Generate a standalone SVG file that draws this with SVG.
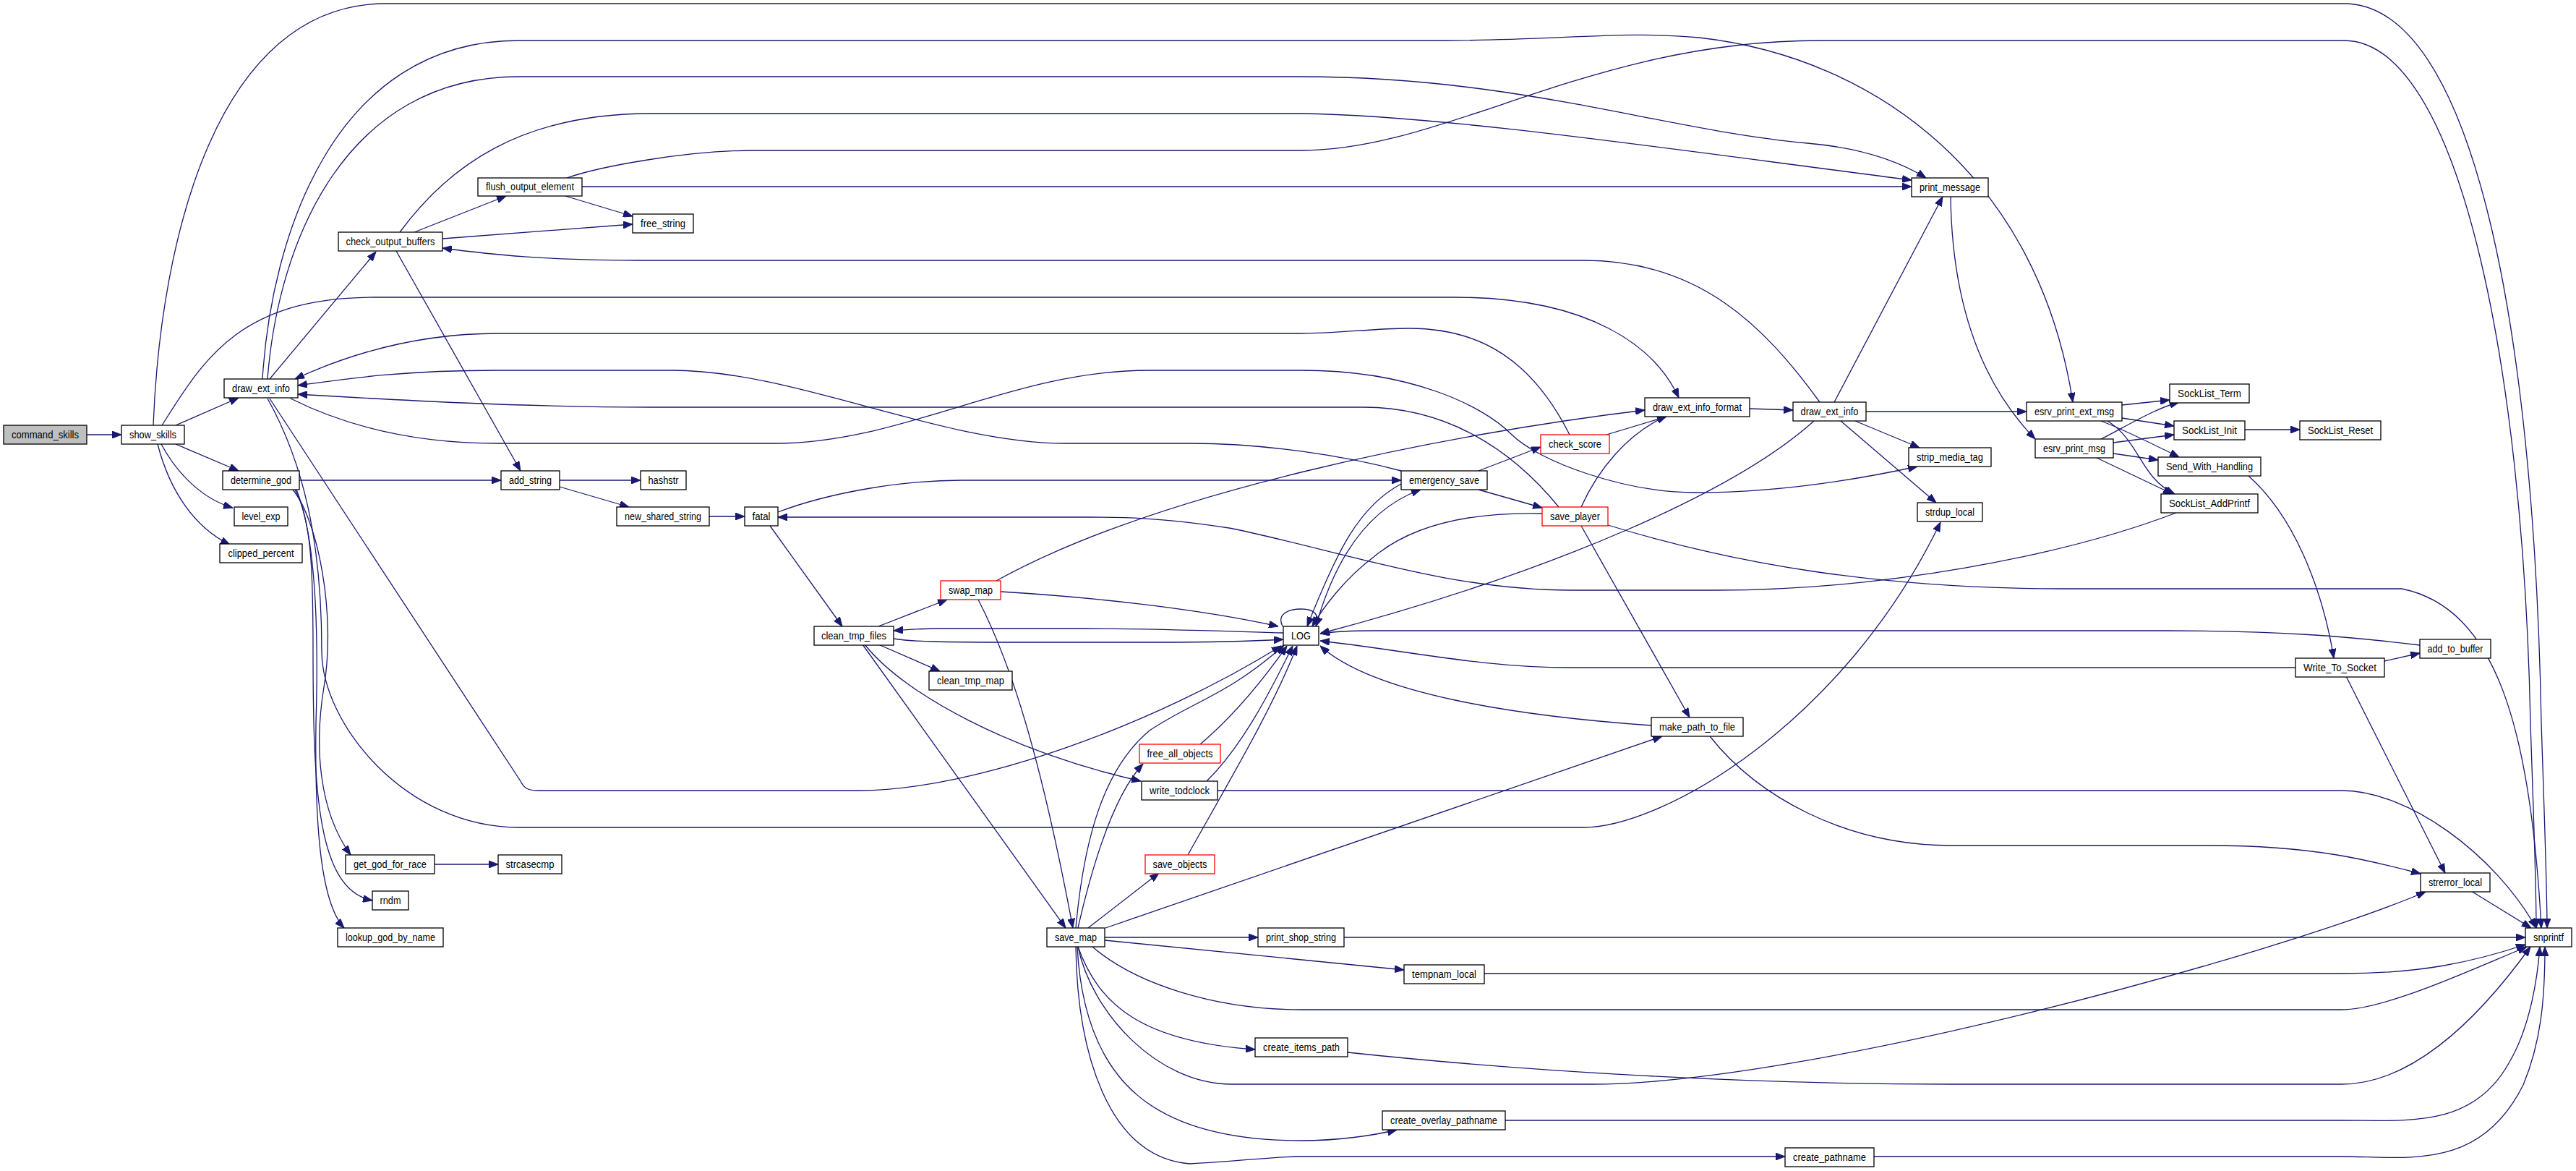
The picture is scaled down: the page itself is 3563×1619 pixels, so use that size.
<svg xmlns="http://www.w3.org/2000/svg" width="3563" height="1619" viewBox="0 0 3563 1619">
<style>
.n rect{fill:#fff;stroke:#000;stroke-width:1.3}
.n.r rect{stroke:#ff0000}
.n.root rect{fill:#bfbfbf}
.n text{font-family:"Liberation Sans",Arial,sans-serif;font-size:14px;fill:#000;text-anchor:middle}
#edges path{fill:none;stroke:#191970;stroke-width:1.3;marker-end:url(#a)}
</style>
<defs>
<marker id="a" viewBox="0 0 13 10" refX="13" refY="5" markerWidth="13" markerHeight="10" markerUnits="userSpaceOnUse" orient="auto"><path d="M0,0 L13,5 L0,10 z" fill="#191970" stroke="#191970"/></marker>
</defs>
<rect width="3563" height="1619" fill="#fff"/>
<g id="edges">
<path d="M120,601 L168,601"/>
<path d="M243,588 L330,550"/>
<path d="M243,614 L330,651"/>
<path d="M223,614 C245,655 280,690 322,702"/>
<path d="M218,614 C235,680 270,730 318,753"/>
<path d="M212,588 C222,330 300,5 534,5 L3242,5 C3420,5 3505,450 3515,1000 C3520,1150 3523,1230 3523,1283"/>
<path d="M224,588 C280,500 330,411 517,411 L2012,411 C2200,411 2290,480 2322,550"/>
<path d="M363,524 C375,330 460,56 718,56 L2000,56 C2150,56 2250,42 2350,52 C2600,80 2820,250 2867,556"/>
<path d="M370,524 C385,330 480,106 718,106 L1800,106 C2100,106 2300,180 2500,198 C2580,205 2630,225 2664,246"/>
<path d="M373,524 L520,348"/>
<path d="M573,321 L700,271"/>
<path d="M612,330 L875,310"/>
<path d="M553,321 C620,230 720,157 900,157 L1800,157 C2000,160 2300,205 2644,249"/>
<path d="M548,347 L720,651"/>
<path d="M782,271 L875,299"/>
<path d="M805,258 L2644,258"/>
<path d="M784,246 C830,230 950,208 1043,208 L1800,208 C2000,208 2200,56 2517,56 L3242,56 C3400,56 3490,500 3500,1000 C3505,1150 3508,1220 3508,1283"/>
<path d="M2517,556 C2440,450 2350,360 2190,360 L900,360 C750,360 680,352 612,343"/>
<path d="M2171,601 C2120,500 2050,454 1949,454 C1900,454 1850,461 1800,461 L689,461 C560,461 460,500 408,524"/>
<path d="M1938,651 C1860,630 1750,613 1646,613 L1474,613 C1300,613 1100,512 929,512 L689,512 C550,512 470,525 412,533"/>
<path d="M2156,701 C2090,620 2000,563 1886,563 L900,563 C700,563 500,550 412,545"/>
<path d="M402,551 C500,600 600,613 689,613 L1072,613 C1250,613 1400,512 1589,512 L1800,512 C1950,512 2050,560 2090,600 C2130,640 2250,681 2345,681 C2450,681 2560,665 2652,645"/>
<path d="M373,551 L720,1080 C725,1090 730,1093 745,1093 L1187,1093 C1350,1093 1600,1000 1772,893"/>
<path d="M370,551 C420,640 445,750 445,900 C445,1000 560,1144 718,1144 L2190,1144 C2300,1144 2550,1000 2684,722"/>
<path d="M405,677 C440,720 465,850 448,950 C435,1030 440,1120 485,1182"/>
<path d="M408,677 C432,720 433,800 433,900 C433,1100 440,1230 515,1245"/>
<path d="M410,677 C440,750 440,900 437,1000 C435,1150 445,1250 476,1283"/>
<path d="M414,664 L693,664"/>
<path d="M774,664 L886,664"/>
<path d="M774,673 L870,701"/>
<path d="M981,714 L1030,714"/>
<path d="M1065,727 L1165,866"/>
<path d="M1076,708 C1150,680 1250,664 1330,664 L1938,664"/>
<path d="M3010,709 C2850,770 2600,816 2374,816 L2173,816 C2000,816 1850,760 1700,730 C1600,715 1550,715 1503,715 L1076,715"/>
<path d="M1215,866 L1310,829"/>
<path d="M1215,891 L1300,928"/>
<path d="M1236,883 C1260,887 1300,888 1400,888 L1600,888 C1700,888 1740,886 1775,884"/>
<path d="M1775,875 C1700,873 1600,869 1500,869 L1300,869 C1270,869 1250,871 1236,872"/>
<path d="M1193,891 L1474,1283"/>
<path d="M1196,891 C1250,960 1400,1040 1578,1080"/>
<path d="M1384,818 C1500,825 1650,840 1768,866"/>
<path d="M1353,829 C1400,920 1440,1050 1484,1283"/>
<path d="M1378,803 C1600,680 2000,600 2275,567"/>
<path d="M2045,651 L2131,618"/>
<path d="M2045,677 L2133,702"/>
<path d="M1938,669 C1880,700 1850,760 1808,866"/>
<path d="M1820,866 C1850,760 1900,700 1965,677"/>
<path d="M2133,710 C2050,708 1960,720 1900,770 C1860,800 1830,840 1815,866"/>
<path d="M2187,701 C2210,650 2250,600 2305,575"/>
<path d="M2222,601 L2305,576"/>
<path d="M2420,565 L2480,567"/>
<path d="M2509,582 C2400,680 2150,790 1826,876"/>
<path d="M2537,556 L2687,272"/>
<path d="M2581,569 L2803,569"/>
<path d="M2566,582 L2655,619"/>
<path d="M2546,582 L2678,695"/>
<path d="M2187,727 L2337,992"/>
<path d="M2224,726 C2400,780 2600,814 2854,814 L3322,814 C3450,840 3500,1000 3515,1283"/>
<path d="M2284,1003 C2100,990 1900,960 1826,893"/>
<path d="M2365,1018 C2430,1100 2550,1169 2700,1169 L3058,1169 C3200,1169 3280,1190 3348,1208"/>
<path d="M3245,935 L3382,1207"/>
<path d="M3418,1232 L3501,1283"/>
<path d="M3175,923 L2173,923 C2050,923 1950,900 1826,886"/>
<path d="M3347,892 C3250,880 3150,872 3000,872 L1900,872 C1860,872 1840,874 1826,876"/>
<path d="M3298,914 L3347,903"/>
<path d="M3110,658 C3180,720 3215,830 3228,910"/>
<path d="M2935,560 L3001,553"/>
<path d="M2935,578 L3007,589"/>
<path d="M2906,582 C2940,595 2980,615 3014,632"/>
<path d="M2915,582 C2960,610 2960,660 3008,683"/>
<path d="M2906,607 C2940,590 2980,565 3014,556"/>
<path d="M2923,612 L3007,601"/>
<path d="M2923,627 L2985,636"/>
<path d="M2898,632 L3005,683"/>
<path d="M3105,594 L3181,594"/>
<path d="M2698,272 C2700,420 2740,530 2815,607"/>
<path d="M1505,1283 L1603,1207"/>
<path d="M1488,1283 C1500,1150 1530,1060 1590,1010 C1650,970 1700,960 1776,892"/>
<path d="M1491,1283 C1510,1200 1540,1100 1581,1056"/>
<path d="M1660,1029 C1700,995 1740,950 1780,893"/>
<path d="M1669,1080 C1720,1030 1760,950 1788,893"/>
<path d="M1643,1182 C1700,1080 1760,980 1794,893"/>
<path d="M1684,1093 L3239,1093 C3330,1093 3450,1180 3508,1283"/>
<path d="M1529,1283 L2299,1018"/>
<path d="M1528,1296 L1740,1296"/>
<path d="M1528,1300 L1942,1341"/>
<path d="M1511,1309 C1570,1360 1680,1396 1800,1396 L3238,1396 C3300,1396 3420,1340 3495,1309"/>
<path d="M1491,1309 C1520,1390 1580,1440 1736,1451"/>
<path d="M1491,1309 C1510,1400 1600,1499 1704,1499 L2202,1499 C2500,1499 3150,1320 3355,1233"/>
<path d="M1490,1309 C1500,1500 1600,1577 1800,1577 C1850,1577 1900,1570 1932,1562"/>
<path d="M1488,1309 C1490,1450 1530,1600 1646,1609 C1720,1605 1760,1599 1800,1599 L2469,1599"/>
<path d="M1859,1296 L3493,1296"/>
<path d="M2053,1346 L3239,1346 C3350,1346 3420,1330 3493,1306"/>
<path d="M1864,1455 C2100,1480 2400,1499 2700,1499 L3239,1499 C3330,1499 3420,1420 3500,1309"/>
<path d="M2082,1549 L3239,1549 C3330,1549 3420,1560 3470,1470 C3500,1420 3510,1350 3513,1309"/>
<path d="M2592,1599 L3239,1599 C3330,1599 3430,1620 3490,1500 C3515,1440 3520,1380 3520,1309"/>
<path d="M1774,866 C1766,850 1780,842 1800,842 C1818,842 1826,850 1820,866"/>
<path d="M601,1195 L689,1195"/>
</g>
<g id="command_skills" class="n root"><rect x="5" y="588" width="115" height="26"/><text x="62.5" y="606" textLength="93" lengthAdjust="spacingAndGlyphs">command_skills</text></g>
<g id="show_skills" class="n"><rect x="168" y="588" width="87" height="26"/><text x="211.5" y="606" textLength="65" lengthAdjust="spacingAndGlyphs">show_skills</text></g>
<g id="draw_ext_info_1" class="n"><rect x="310" y="524" width="102" height="26"/><text x="361" y="542" textLength="80" lengthAdjust="spacingAndGlyphs">draw_ext_info</text></g>
<g id="determine_god" class="n"><rect x="308" y="651" width="106" height="26"/><text x="361" y="669" textLength="84" lengthAdjust="spacingAndGlyphs">determine_god</text></g>
<g id="level_exp" class="n"><rect x="324" y="701" width="74" height="26"/><text x="361" y="719" textLength="53" lengthAdjust="spacingAndGlyphs">level_exp</text></g>
<g id="clipped_percent" class="n"><rect x="304" y="752" width="114" height="26"/><text x="361" y="770" textLength="91" lengthAdjust="spacingAndGlyphs">clipped_percent</text></g>
<g id="check_output_buffers" class="n"><rect x="468" y="321" width="144" height="26"/><text x="540" y="339" textLength="123" lengthAdjust="spacingAndGlyphs">check_output_buffers</text></g>
<g id="flush_output_element" class="n"><rect x="661" y="246" width="144" height="25"/><text x="733" y="263" textLength="122" lengthAdjust="spacingAndGlyphs">flush_output_element</text></g>
<g id="free_string" class="n"><rect x="875" y="296" width="84" height="26"/><text x="917" y="314" textLength="62" lengthAdjust="spacingAndGlyphs">free_string</text></g>
<g id="add_string" class="n"><rect x="693" y="651" width="81" height="26"/><text x="733.5" y="669" textLength="59" lengthAdjust="spacingAndGlyphs">add_string</text></g>
<g id="hashstr" class="n"><rect x="886" y="651" width="63" height="26"/><text x="917.5" y="669" textLength="42" lengthAdjust="spacingAndGlyphs">hashstr</text></g>
<g id="new_shared_string" class="n"><rect x="853" y="701" width="128" height="26"/><text x="917" y="719" textLength="106" lengthAdjust="spacingAndGlyphs">new_shared_string</text></g>
<g id="fatal" class="n"><rect x="1030" y="701" width="46" height="26"/><text x="1053" y="719" textLength="25" lengthAdjust="spacingAndGlyphs">fatal</text></g>
<g id="clean_tmp_files" class="n"><rect x="1126" y="866" width="110" height="26"/><text x="1181" y="884" textLength="90" lengthAdjust="spacingAndGlyphs">clean_tmp_files</text></g>
<g id="swap_map" class="n r"><rect x="1301" y="803" width="83" height="26"/><text x="1342.5" y="821" textLength="61" lengthAdjust="spacingAndGlyphs">swap_map</text></g>
<g id="clean_tmp_map" class="n"><rect x="1285" y="928" width="115" height="26"/><text x="1342.5" y="946" textLength="93" lengthAdjust="spacingAndGlyphs">clean_tmp_map</text></g>
<g id="LOG" class="n"><rect x="1775" y="866" width="49" height="26"/><text x="1799.5" y="884" textLength="27" lengthAdjust="spacingAndGlyphs">LOG</text></g>
<g id="free_all_objects" class="n r"><rect x="1576" y="1029" width="112" height="26"/><text x="1632" y="1047" textLength="91" lengthAdjust="spacingAndGlyphs">free_all_objects</text></g>
<g id="write_todclock" class="n"><rect x="1579" y="1080" width="105" height="26"/><text x="1631.5" y="1098" textLength="83" lengthAdjust="spacingAndGlyphs">write_todclock</text></g>
<g id="save_objects" class="n r"><rect x="1584" y="1182" width="96" height="26"/><text x="1632" y="1200" textLength="75" lengthAdjust="spacingAndGlyphs">save_objects</text></g>
<g id="save_map" class="n"><rect x="1448" y="1283" width="80" height="26"/><text x="1488" y="1301" textLength="58" lengthAdjust="spacingAndGlyphs">save_map</text></g>
<g id="print_shop_string" class="n"><rect x="1740" y="1283" width="119" height="26"/><text x="1799.5" y="1301" textLength="97" lengthAdjust="spacingAndGlyphs">print_shop_string</text></g>
<g id="tempnam_local" class="n"><rect x="1942" y="1334" width="111" height="26"/><text x="1997.5" y="1352" textLength="89" lengthAdjust="spacingAndGlyphs">tempnam_local</text></g>
<g id="create_items_path" class="n"><rect x="1736" y="1435" width="128" height="26"/><text x="1800" y="1453" textLength="106" lengthAdjust="spacingAndGlyphs">create_items_path</text></g>
<g id="create_overlay_pathname" class="n"><rect x="1912" y="1536" width="170" height="26"/><text x="1997" y="1554" textLength="148" lengthAdjust="spacingAndGlyphs">create_overlay_pathname</text></g>
<g id="create_pathname" class="n"><rect x="2469" y="1587" width="123" height="26"/><text x="2530.5" y="1605" textLength="101" lengthAdjust="spacingAndGlyphs">create_pathname</text></g>
<g id="get_god_for_race" class="n"><rect x="478" y="1182" width="123" height="26"/><text x="539.5" y="1200" textLength="101" lengthAdjust="spacingAndGlyphs">get_god_for_race</text></g>
<g id="strcasecmp" class="n"><rect x="689" y="1182" width="88" height="26"/><text x="733" y="1200" textLength="67" lengthAdjust="spacingAndGlyphs">strcasecmp</text></g>
<g id="rndm" class="n"><rect x="515" y="1232" width="50" height="26"/><text x="540" y="1250" textLength="29" lengthAdjust="spacingAndGlyphs">rndm</text></g>
<g id="lookup_god_by_name" class="n"><rect x="467" y="1283" width="146" height="26"/><text x="540" y="1301" textLength="124" lengthAdjust="spacingAndGlyphs">lookup_god_by_name</text></g>
<g id="emergency_save" class="n"><rect x="1938" y="651" width="119" height="26"/><text x="1997.5" y="669" textLength="97" lengthAdjust="spacingAndGlyphs">emergency_save</text></g>
<g id="check_score" class="n r"><rect x="2131" y="601" width="95" height="26"/><text x="2178.5" y="619" textLength="73" lengthAdjust="spacingAndGlyphs">check_score</text></g>
<g id="save_player" class="n r"><rect x="2133" y="701" width="91" height="26"/><text x="2178.5" y="719" textLength="69" lengthAdjust="spacingAndGlyphs">save_player</text></g>
<g id="draw_ext_info_format" class="n"><rect x="2275" y="550" width="145" height="26"/><text x="2347.5" y="568" textLength="123" lengthAdjust="spacingAndGlyphs">draw_ext_info_format</text></g>
<g id="draw_ext_info_2" class="n"><rect x="2480" y="556" width="101" height="26"/><text x="2530.5" y="574" textLength="80" lengthAdjust="spacingAndGlyphs">draw_ext_info</text></g>
<g id="make_path_to_file" class="n"><rect x="2284" y="992" width="127" height="26"/><text x="2347.5" y="1010" textLength="105" lengthAdjust="spacingAndGlyphs">make_path_to_file</text></g>
<g id="print_message" class="n"><rect x="2644" y="246" width="106" height="26"/><text x="2697" y="264" textLength="84" lengthAdjust="spacingAndGlyphs">print_message</text></g>
<g id="strip_media_tag" class="n"><rect x="2640" y="619" width="114" height="26"/><text x="2697" y="637" textLength="92" lengthAdjust="spacingAndGlyphs">strip_media_tag</text></g>
<g id="strdup_local" class="n"><rect x="2652" y="695" width="90" height="26"/><text x="2697" y="713" textLength="68" lengthAdjust="spacingAndGlyphs">strdup_local</text></g>
<g id="esrv_print_ext_msg" class="n"><rect x="2803" y="556" width="132" height="26"/><text x="2869" y="574" textLength="110" lengthAdjust="spacingAndGlyphs">esrv_print_ext_msg</text></g>
<g id="esrv_print_msg" class="n"><rect x="2815" y="607" width="108" height="26"/><text x="2869" y="625" textLength="86" lengthAdjust="spacingAndGlyphs">esrv_print_msg</text></g>
<g id="SockList_Term" class="n"><rect x="3001" y="531" width="110" height="26"/><text x="3056" y="549" textLength="88" lengthAdjust="spacingAndGlyphs">SockList_Term</text></g>
<g id="SockList_Init" class="n"><rect x="3007" y="582" width="98" height="26"/><text x="3056" y="600" textLength="76" lengthAdjust="spacingAndGlyphs">SockList_Init</text></g>
<g id="SockList_Reset" class="n"><rect x="3181" y="582" width="112" height="26"/><text x="3237" y="600" textLength="90" lengthAdjust="spacingAndGlyphs">SockList_Reset</text></g>
<g id="Send_With_Handling" class="n"><rect x="2985" y="632" width="142" height="26"/><text x="3056" y="650" textLength="120" lengthAdjust="spacingAndGlyphs">Send_With_Handling</text></g>
<g id="SockList_AddPrintf" class="n"><rect x="2989" y="683" width="134" height="26"/><text x="3056" y="701" textLength="112" lengthAdjust="spacingAndGlyphs">SockList_AddPrintf</text></g>
<g id="Write_To_Socket" class="n"><rect x="3175" y="910" width="123" height="26"/><text x="3236.5" y="928" textLength="101" lengthAdjust="spacingAndGlyphs">Write_To_Socket</text></g>
<g id="add_to_buffer" class="n"><rect x="3347" y="884" width="98" height="26"/><text x="3396" y="902" textLength="77" lengthAdjust="spacingAndGlyphs">add_to_buffer</text></g>
<g id="strerror_local" class="n"><rect x="3348" y="1207" width="96" height="26"/><text x="3396" y="1225" textLength="74" lengthAdjust="spacingAndGlyphs">strerror_local</text></g>
<g id="snprintf" class="n"><rect x="3493" y="1283" width="64" height="26"/><text x="3525" y="1301" textLength="42" lengthAdjust="spacingAndGlyphs">snprintf</text></g>
</svg>
